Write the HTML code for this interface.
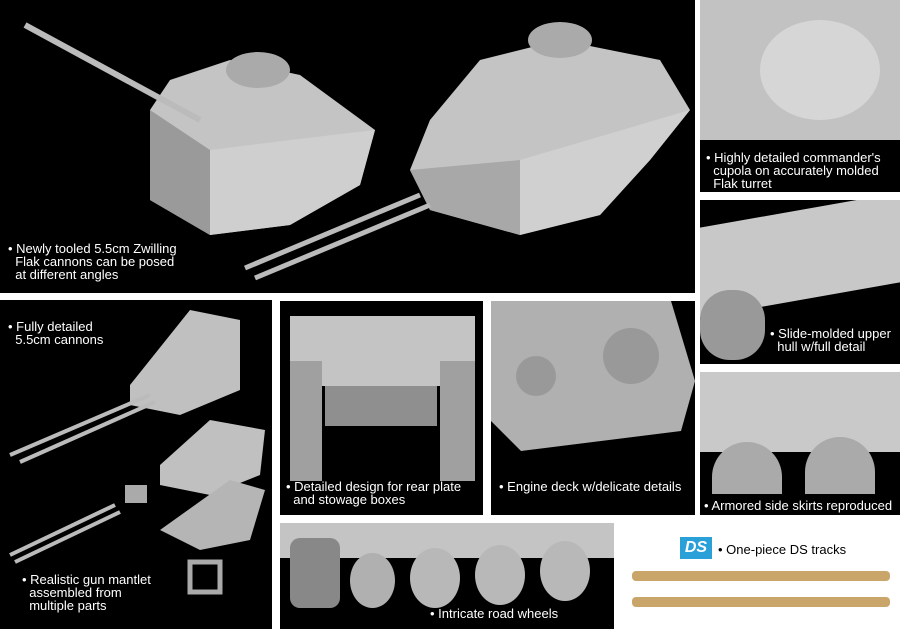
<!DOCTYPE html>
<html><head><style>
body{margin:0;width:900px;height:629px;background:#fff;position:relative;overflow:hidden;font-family:"Liberation Sans",sans-serif}
.p{position:absolute;background:#000;overflow:hidden}
.t{position:absolute;color:#fff;font-size:13px;line-height:13px}
.g{position:absolute;background:#b8b8b8}
</style></head><body>
<div class="p" style="left:0;top:0;width:695px;height:293px">
 <svg width="695" height="293" style="position:absolute;left:0;top:0">
  <polygon points="150,110 170,80 230,60 300,75 375,130 360,185 290,225 210,235 150,200" fill="#c4c4c4"/>
  <polygon points="150,110 210,150 210,235 150,200" fill="#9a9a9a"/>
  <polygon points="210,150 290,140 375,130 360,185 290,225 210,235" fill="#cfcfcf"/>
  <ellipse cx="258" cy="70" rx="32" ry="18" fill="#aaa"/>
  <line x1="25" y1="25" x2="200" y2="120" stroke="#bbb" stroke-width="6"/>
  <polygon points="410,170 430,120 480,60 560,40 660,60 690,110 650,160 600,215 520,235 430,210" fill="#c4c4c4"/>
  <polygon points="410,170 520,160 520,235 430,210" fill="#a8a8a8"/>
  <polygon points="520,160 690,110 650,160 600,215 520,235" fill="#d0d0d0"/>
  <ellipse cx="560" cy="40" rx="32" ry="18" fill="#aaa"/>
  <line x1="245" y1="268" x2="420" y2="195" stroke="#bbb" stroke-width="5"/>
  <line x1="255" y1="278" x2="430" y2="205" stroke="#bbb" stroke-width="5"/>
 </svg>
 <div class="t" style="left:8px;top:242px">• Newly tooled 5.5cm Zwilling<br>&nbsp;&nbsp;Flak cannons can be posed<br>&nbsp;&nbsp;at different angles</div>
</div>
<div class="p" style="left:700px;top:0;width:200px;height:192px">
 <div class="g" style="left:0;top:0;width:200px;height:140px;background:#c2c2c2"></div>
 <div style="position:absolute;left:60px;top:20px;width:120px;height:100px;border-radius:50%;background:#d6d6d6"></div>
 <div class="t" style="left:6px;top:151px">• Highly detailed commander's<br>&nbsp;&nbsp;cupola on accurately molded<br>&nbsp;&nbsp;Flak turret</div>
</div>
<div class="p" style="left:700px;top:200px;width:200px;height:164px">
 <div class="g" style="left:0;top:10px;width:200px;height:90px;transform:skewY(-10deg);background:#c8c8c8"></div>
 <div class="g" style="left:0;top:90px;width:65px;height:70px;border-radius:30px;background:#999"></div>
 <div class="t" style="left:70px;top:127px">• Slide-molded upper<br>&nbsp;&nbsp;hull w/full detail</div>
</div>
<div class="p" style="left:700px;top:372px;width:200px;height:143px">
 <div class="g" style="left:0;top:0;width:200px;height:80px;background:#c9c9c9"></div>
 <div style="position:absolute;left:12px;top:70px;width:70px;height:52px;border-radius:35px 35px 0 0;background:#aaa"></div>
 <div style="position:absolute;left:105px;top:65px;width:70px;height:57px;border-radius:35px 35px 0 0;background:#aaa"></div>
 <div class="t" style="left:4px;top:127px">• Armored side skirts reproduced</div>
</div>
<div class="p" style="left:0;top:300px;width:272px;height:329px">
 <svg width="272" height="329" style="position:absolute;left:0;top:0">
  <polygon points="130,85 190,10 240,20 240,90 180,115 130,105" fill="#c0c0c0"/>
  <line x1="10" y1="155" x2="150" y2="95" stroke="#bbb" stroke-width="4"/>
  <line x1="20" y1="162" x2="155" y2="102" stroke="#bbb" stroke-width="4"/>
  <polygon points="160,165 210,120 265,130 260,175 210,195 160,185" fill="#c0c0c0"/>
  <rect x="125" y="185" width="22" height="18" fill="#aaa"/>
  <polygon points="160,230 230,180 265,190 250,240 200,250" fill="#b5b5b5"/>
  <line x1="10" y1="255" x2="115" y2="205" stroke="#bbb" stroke-width="4"/>
  <line x1="15" y1="262" x2="120" y2="212" stroke="#bbb" stroke-width="4"/>
  <rect x="190" y="262" width="30" height="30" fill="none" stroke="#aaa" stroke-width="5"/>
 </svg>
 <div class="t" style="left:8px;top:20px">• Fully detailed<br>&nbsp;&nbsp;5.5cm cannons</div>
 <div class="t" style="left:22px;top:273px">• Realistic gun mantlet<br>&nbsp;&nbsp;assembled from<br>&nbsp;&nbsp;multiple parts</div>
</div>
<div class="p" style="left:280px;top:301px;width:203px;height:214px">
 <div class="g" style="left:10px;top:15px;width:185px;height:70px;background:#c4c4c4"></div>
 <div class="g" style="left:10px;top:60px;width:32px;height:120px;background:#a0a0a0"></div>
 <div class="g" style="left:160px;top:60px;width:35px;height:120px;background:#a0a0a0"></div>
 <div class="g" style="left:45px;top:85px;width:112px;height:40px;background:#8f8f8f"></div>
 <div class="t" style="left:6px;top:179px">• Detailed design for rear plate<br>&nbsp;&nbsp;and stowage boxes</div>
</div>
<div class="p" style="left:491px;top:301px;width:204px;height:214px">
 <svg width="204" height="214" style="position:absolute;left:0;top:0"><polygon points="0,0 180,0 204,80 190,130 30,150 0,120" fill="#b0b0b0"/><circle cx="140" cy="55" r="28" fill="#999"/><circle cx="45" cy="75" r="20" fill="#999"/></svg>
 <div class="t" style="left:8px;top:179px">• Engine deck w/delicate details</div>
</div>
<div class="p" style="left:280px;top:523px;width:334px;height:106px">
 <div class="g" style="left:0;top:0;width:334px;height:35px;background:#c4c4c4"></div>
 <div class="g" style="left:10px;top:15px;width:50px;height:70px;background:#888;border-radius:10px"></div>
 <div style="position:absolute;left:70px;top:30px;width:45px;height:55px;border-radius:50%;background:#b0b0b0"></div>
 <div style="position:absolute;left:130px;top:25px;width:50px;height:60px;border-radius:50%;background:#b8b8b8"></div>
 <div style="position:absolute;left:195px;top:22px;width:50px;height:60px;border-radius:50%;background:#b8b8b8"></div>
 <div style="position:absolute;left:260px;top:18px;width:50px;height:60px;border-radius:50%;background:#b8b8b8"></div>
 <div class="t" style="left:150px;top:84px">• Intricate road wheels</div>
</div>
<div style="position:absolute;left:680px;top:537px;width:32px;height:22px;background:#2aa0d8;color:#fff;font:bold italic 16px 'Liberation Sans',sans-serif;text-align:center;line-height:22px">DS</div>
<div style="position:absolute;left:718px;top:542px;font-size:13px;color:#000">• One-piece DS tracks</div>
<div style="position:absolute;left:632px;top:571px;width:258px;height:10px;background:#c9a56a;border-radius:4px"></div>
<div style="position:absolute;left:632px;top:597px;width:258px;height:10px;background:#c9a56a;border-radius:4px"></div>
</body></html>
